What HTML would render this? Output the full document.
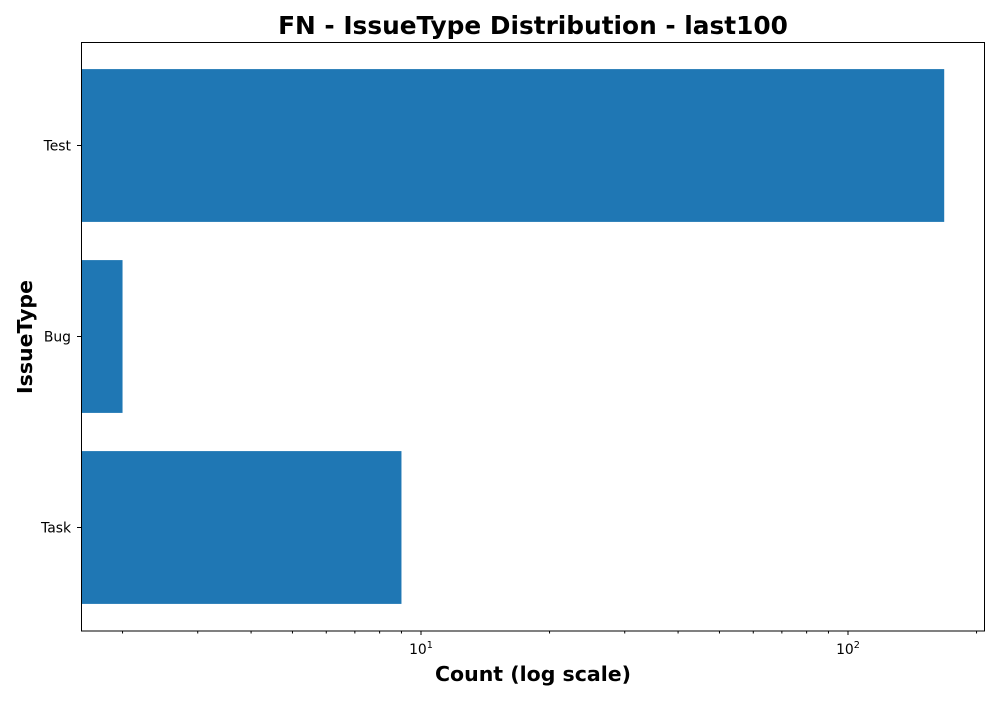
<!DOCTYPE html>
<html><head><meta charset="utf-8"><style>
body{margin:0;background:#fff;font-family:"DejaVu Sans","Liberation Sans",sans-serif}
svg text{font-family:"DejaVu Sans","Liberation Sans",sans-serif}
</style></head><body>
<svg id="chart" width="1000" height="700" xmlns="http://www.w3.org/2000/svg">
<text x="533" y="34" text-anchor="middle" font-size="24.8" font-weight="bold">FN - IssueType Distribution - last100</text>
<text x="533" y="681" text-anchor="middle" font-size="20.5" font-weight="bold">Count (log scale)</text>
<text transform="translate(32,337) rotate(-90)" text-anchor="middle" font-size="20.5" font-weight="bold">IssueType</text>
<g id="plot"></g>
<rect x="81.5" y="42.5" width="903" height="588.5" fill="none" stroke="#000" stroke-width="1"/>
</svg>
<script>
const categories = ["Test", "Bug", "Task"];
const counts = [168, 2, 9];
const majorTicks = [10, 100];
const majorTickLabels = ["1", "2"];
const minorTicks = [2,3,4,5,6,7,8,9,20,30,40,50,60,70,80,90,200];

const L=81, R=985, T=42, B=631;
const xMinLog = 1 - (421-81)/427, xMaxLog = 2 + (985-848)/427;
function x(v){ return L + (Math.log10(v)-xMinLog)/(xMaxLog-xMinLog)*(R-L); }
const step=191;
function yc(i){ return 145.5 + step*i; }
const ns="http://www.w3.org/2000/svg";
const g=document.getElementById('plot');
function mk(t,a){const e=document.createElementNS(ns,t);for(const k in a)e.setAttribute(k,a[k]);g.appendChild(e);return e;}
categories.forEach((c,i)=>{
  const h=step*0.8, w=Math.max(0,x(counts[i])-L);
  const r=mk('rect',{x:L,y:yc(i)-h/2,width:w,height:h,fill:'#1f77b4'});
  
  
  const tk=mk('line',{x1:L-4,x2:L,y1:yc(i),y2:yc(i),stroke:'#000'});
  
  
  const t=mk('text',{x:L-10,y:yc(i)+5,'text-anchor':'end','font-size':13.9});
  t.textContent=c;
  
  
});
majorTicks.forEach((v,i)=>{
  const px=x(v);
  const tk=mk('line',{x1:px,x2:px,y1:B,y2:B+4,stroke:'#000'});
  
  
  const t=mk('text',{x:px,y:B+23,'text-anchor':'middle','font-size':13.9});
  t.innerHTML='10<tspan dy="-6" font-size="9.7">'+majorTickLabels[i]+'</tspan>';
  
  
});
minorTicks.forEach(v=>{
  const px=x(v); if(px<L||px>R) return;
  const tk=mk('line',{x1:px,x2:px,y1:B,y2:B+2.5,stroke:'#000'});
  
  
});
</script>
</body></html>
